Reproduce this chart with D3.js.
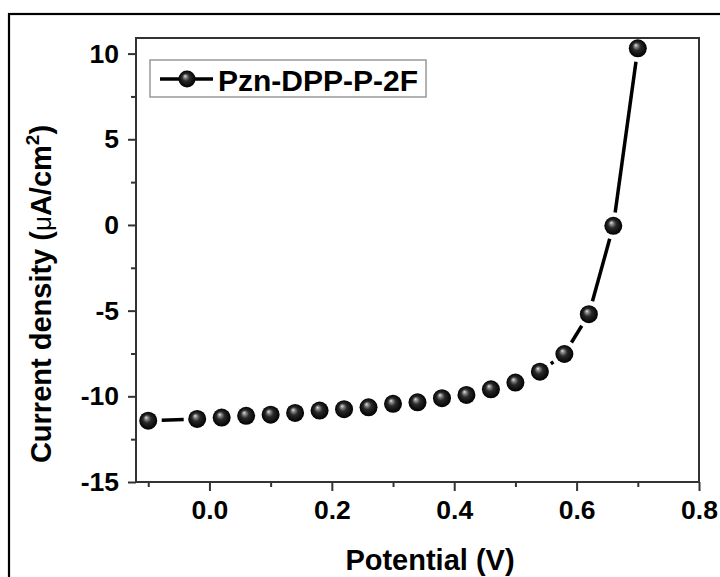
<!DOCTYPE html>
<html><head><meta charset="utf-8">
<script src="https://cdn.jsdelivr.net/npm/d3@7"></script>
<style>body{margin:0;background:#fff;} svg{display:block;}</style>
</head><body>
<svg id="c" width="720" height="577"></svg>
<script>
const seriesName = "Pzn-DPP-P-2F";
const potential = [-0.10,-0.02,0.02,0.06,0.10,0.14,0.18,0.22,0.26,0.30,0.34,0.38,0.42,0.46,0.50,0.54,0.58,0.62,0.66,0.70];
const currentDensity = [-11.42,-11.32,-11.24,-11.14,-11.07,-10.97,-10.83,-10.75,-10.64,-10.44,-10.35,-10.11,-9.92,-9.59,-9.20,-8.56,-7.53,-5.21,-0.05,10.31];
const xMajorTicks = [0.0,0.2,0.4,0.6,0.8];
const xMinorTicks = [-0.1,0.1,0.3,0.5,0.7];
const yMajorTicks = [-15,-10,-5,0,5,10];
const yMinorTicks = [-12.5,-7.5,-2.5,2.5,7.5];
const xTitle = "Potential (V)";

const svg = d3.select("#c");
const L=136, R=699, T=38, B=482;
const x = d3.scaleLinear().domain([-0.12,0.8]).range([L,R]);
const y = d3.scaleLinear().domain([-15,10.91]).range([B,T]);
const FONT = "'Liberation Sans', Arial, Helvetica, sans-serif";

// outer border
svg.append("rect").attr("x",9).attr("y",14).attr("width",740).attr("height",600)
  .attr("fill","none").attr("stroke","#000").attr("stroke-width",2.2);

// gradient for spheres
const defs = svg.append("defs");
const g = defs.append("radialGradient").attr("id","ball").attr("cx","50%").attr("cy","50%").attr("r","50%")
  .attr("fx","38%").attr("fy","32%");
g.append("stop").attr("offset","0%").attr("stop-color","#e6e6e6");
g.append("stop").attr("offset","18%").attr("stop-color","#8a8a8a");
g.append("stop").attr("offset","45%").attr("stop-color","#2a2a2a");
g.append("stop").attr("offset","100%").attr("stop-color","#000");

// axes
const xAxis = d3.axisBottom(x).tickValues(xMajorTicks).tickSize(9).tickPadding(9).tickFormat(d3.format(".1f"));
const xAxisMinor = d3.axisBottom(x).tickValues(xMinorTicks).tickSize(5).tickFormat("");
const yAxis = d3.axisLeft(y).tickValues(yMajorTicks).tickSize(8).tickPadding(9).tickFormat(d => String(d));
const yAxisMinor = d3.axisLeft(y).tickValues(yMinorTicks).tickSize(5).tickFormat("");

function styleAxis(sel){
  sel.select(".domain").remove();
  sel.selectAll("line").attr("stroke","#333").attr("stroke-width",2);
  sel.selectAll("text").attr("font-family",FONT).attr("font-weight","bold").attr("font-size",26.5).attr("fill","#000");
}
svg.append("g").attr("transform",`translate(0,${B})`).call(xAxis).call(styleAxis);
svg.append("g").attr("transform",`translate(0,${B})`).call(xAxisMinor).call(styleAxis);
svg.append("g").attr("transform",`translate(${L},0)`).call(yAxis).call(styleAxis);
svg.append("g").attr("transform",`translate(${L},0)`).call(yAxisMinor).call(styleAxis);

// frame
svg.append("rect").attr("x",L).attr("y",T).attr("width",R-L).attr("height",B-T)
  .attr("fill","none").attr("stroke","#333").attr("stroke-width",2);

// data
const pts = potential.map((v,i)=>({px:x(v), py:y(currentDensity[i])}));
const r = 9, gap = 13.5;
const segs = [];
for(let i=0;i<pts.length-1;i++){
  const a=pts[i], b=pts[i+1];
  const dx=b.px-a.px, dy=b.py-a.py, len=Math.hypot(dx,dy);
  if(len>2*gap+1){
    const ux=dx/len, uy=dy/len;
    segs.push({x1:a.px+ux*gap,y1:a.py+uy*gap,x2:b.px-ux*gap,y2:b.py-uy*gap});
  }
}
svg.append("g").selectAll("line").data(segs).join("line")
  .attr("x1",d=>d.x1).attr("y1",d=>d.y1).attr("x2",d=>d.x2).attr("y2",d=>d.y2)
  .attr("stroke","#000").attr("stroke-width",3.5);
svg.append("g").selectAll("circle").data(pts).join("circle")
  .attr("cx",d=>d.px).attr("cy",d=>d.py).attr("r",r).attr("fill","url(#ball)");

// legend
const lg = svg.append("g");
const lt = lg.append("text").attr("x",218).attr("y",91).text(seriesName)
  .attr("font-family",FONT).attr("font-weight","bold").attr("font-size",30);
const tw = lt.node().getComputedTextLength();
lg.insert("rect","text").attr("x",150).attr("y",60).attr("width",218+tw+8-150).attr("height",37)
  .attr("fill","#fff").attr("stroke","#999").attr("stroke-width",1.5);
lg.append("line").attr("x1",160).attr("x2",213).attr("y1",79).attr("y2",79).attr("stroke","#000").attr("stroke-width",3.5);
lg.append("circle").attr("cx",187).attr("cy",79).attr("r",8.5).attr("fill","url(#ball)");

// titles
svg.append("text").attr("x",430).attr("y",570).attr("text-anchor","middle")
  .attr("font-family",FONT).attr("font-weight","bold").attr("font-size",29).text(xTitle);
const yt = svg.append("text").attr("transform",`translate(51,294) rotate(-90)`).attr("text-anchor","middle")
  .attr("font-family",FONT).attr("font-weight","bold").attr("font-size",29);
yt.append("tspan").text("Current density (");
yt.append("tspan").attr("font-weight","normal").attr("font-size",26).text("μ");
yt.append("tspan").text("A/cm");
yt.append("tspan").attr("dy",-12).attr("font-size",19).text("2");
yt.append("tspan").attr("dy",12).text(")");
</script>
</body></html>
